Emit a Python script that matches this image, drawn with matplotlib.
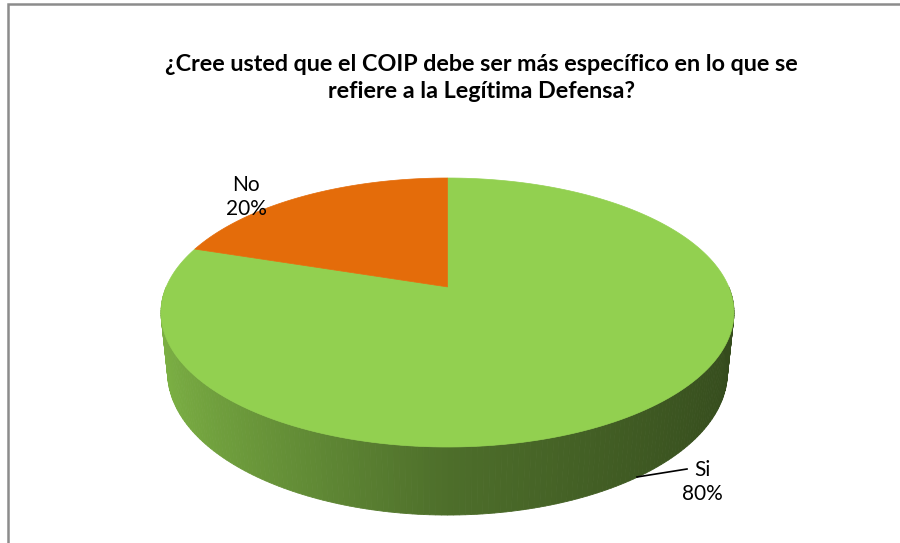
import numpy as np
import matplotlib.pyplot as plt
from matplotlib.patches import Polygon
from matplotlib.colors import to_rgb

# survey answers
labels = ['Si', 'No']
values = [80, 20]
colors = ['#92d050', '#e46c0a']
title = '¿Cree usted que el COIP debe ser más específico en lo que se\nrefiere a la Legítima Defensa?'

plt.rcParams['font.family'] = ['Lato', 'DejaVu Sans']

# perspective camera looking down on a flat cylinder of radius 1
elev = np.radians(26.9)
dist = 4.69
thick = 0.236


def project(X, Y, Z):
    depth = dist + Y * np.cos(elev) - Z * np.sin(elev)
    return X / depth, (Y * np.sin(elev) + Z * np.cos(elev)) / depth


# screen box of the top face (pixels)
box_x = (161, 734)
box_y = (178, 447)
ring = np.radians(np.linspace(0, 360, 721))
rx, ry = project(np.cos(ring), np.sin(ring), 0 * ring)
kx = (box_x[1] - box_x[0]) / (rx.max() - rx.min())
ky = (box_y[1] - box_y[0]) / (ry.max() - ry.min())


def to_px(X, Y, Z):
    sx, sy = project(X, Y, Z)
    return box_x[0] + (sx - rx.min()) * kx, box_y[0] + (ry.max() - sy) * ky


# slice angles: first slice starts at 12 o'clock, going clockwise
fracs = np.array(values) / np.sum(values)
ends = 90 - 360 * np.cumsum(fracs)
starts = np.concatenate([[90], ends[:-1]])

fig = plt.figure(figsize=(9, 5.43), dpi=100)
ax = fig.add_axes([0, 0, 1, 1])
ax.set_xlim(0, 900)
ax.set_ylim(543, 0)
ax.axis('off')


def slice_at(theta):
    for i, (a, b) in enumerate(zip(starts, ends)):
        t = (theta - b) % 360
        if t <= (a - b):
            return i
    return 0


# side wall: front half, shaded darker to the right
shade_t = [0.0, 0.5, 1.0]
shade_f = [0.86, 0.53, 0.36]
steps = np.linspace(180, 360, 181)
for t0, t1 in zip(steps[:-1], steps[1:]):
    a0, a1 = np.radians(t0), np.radians(t1)
    xs, ys = [], []
    for a, z in [(a0, 0), (a1, 0), (a1, -thick), (a0, -thick)]:
        px, py = to_px(np.cos(a), np.sin(a), z)
        xs.append(px)
        ys.append(py)
    mid = 0.5 * (t0 + t1)
    k = np.interp((1 + np.cos(np.radians(mid))) / 2, shade_t, shade_f)
    col = np.array(to_rgb(colors[slice_at(mid)])) * k
    ax.add_patch(Polygon(np.column_stack([xs, ys]), closed=True,
                         facecolor=col, edgecolor=col, linewidth=0.6))

# top face wedges
cx, cy = to_px(0, 0, 0)
for a, b, col in zip(starts, ends, colors):
    th = np.radians(np.linspace(a, b, 200))
    px, py = to_px(np.cos(th), np.sin(th), 0 * th)
    pts = np.column_stack([np.r_[cx, px], np.r_[cy, py]])
    ax.add_patch(Polygon(pts, closed=True, facecolor=col, edgecolor=col,
                         linewidth=0.5))

# data labels
ax.text(246, 197, '{}\n{}%'.format(labels[1], values[1]), ha='center',
        va='center', fontsize=15, linespacing=1.3)
ax.text(702, 482, '{}\n{}%'.format(labels[0], values[0]), ha='center',
        va='center', fontsize=15, linespacing=1.3)
ax.plot([637, 687], [477, 469], color='black', linewidth=1.2)

ax.text(481, 78, title, ha='center', va='center', fontsize=16.8,
        fontweight='bold', linespacing=1.38)

# chart frame
ax.plot([8, 8, 900], [543, 4, 4], color='#8c8c8c', linewidth=1.8,
        solid_joinstyle='miter')

fig.savefig('out.png', dpi=100, facecolor='white')
